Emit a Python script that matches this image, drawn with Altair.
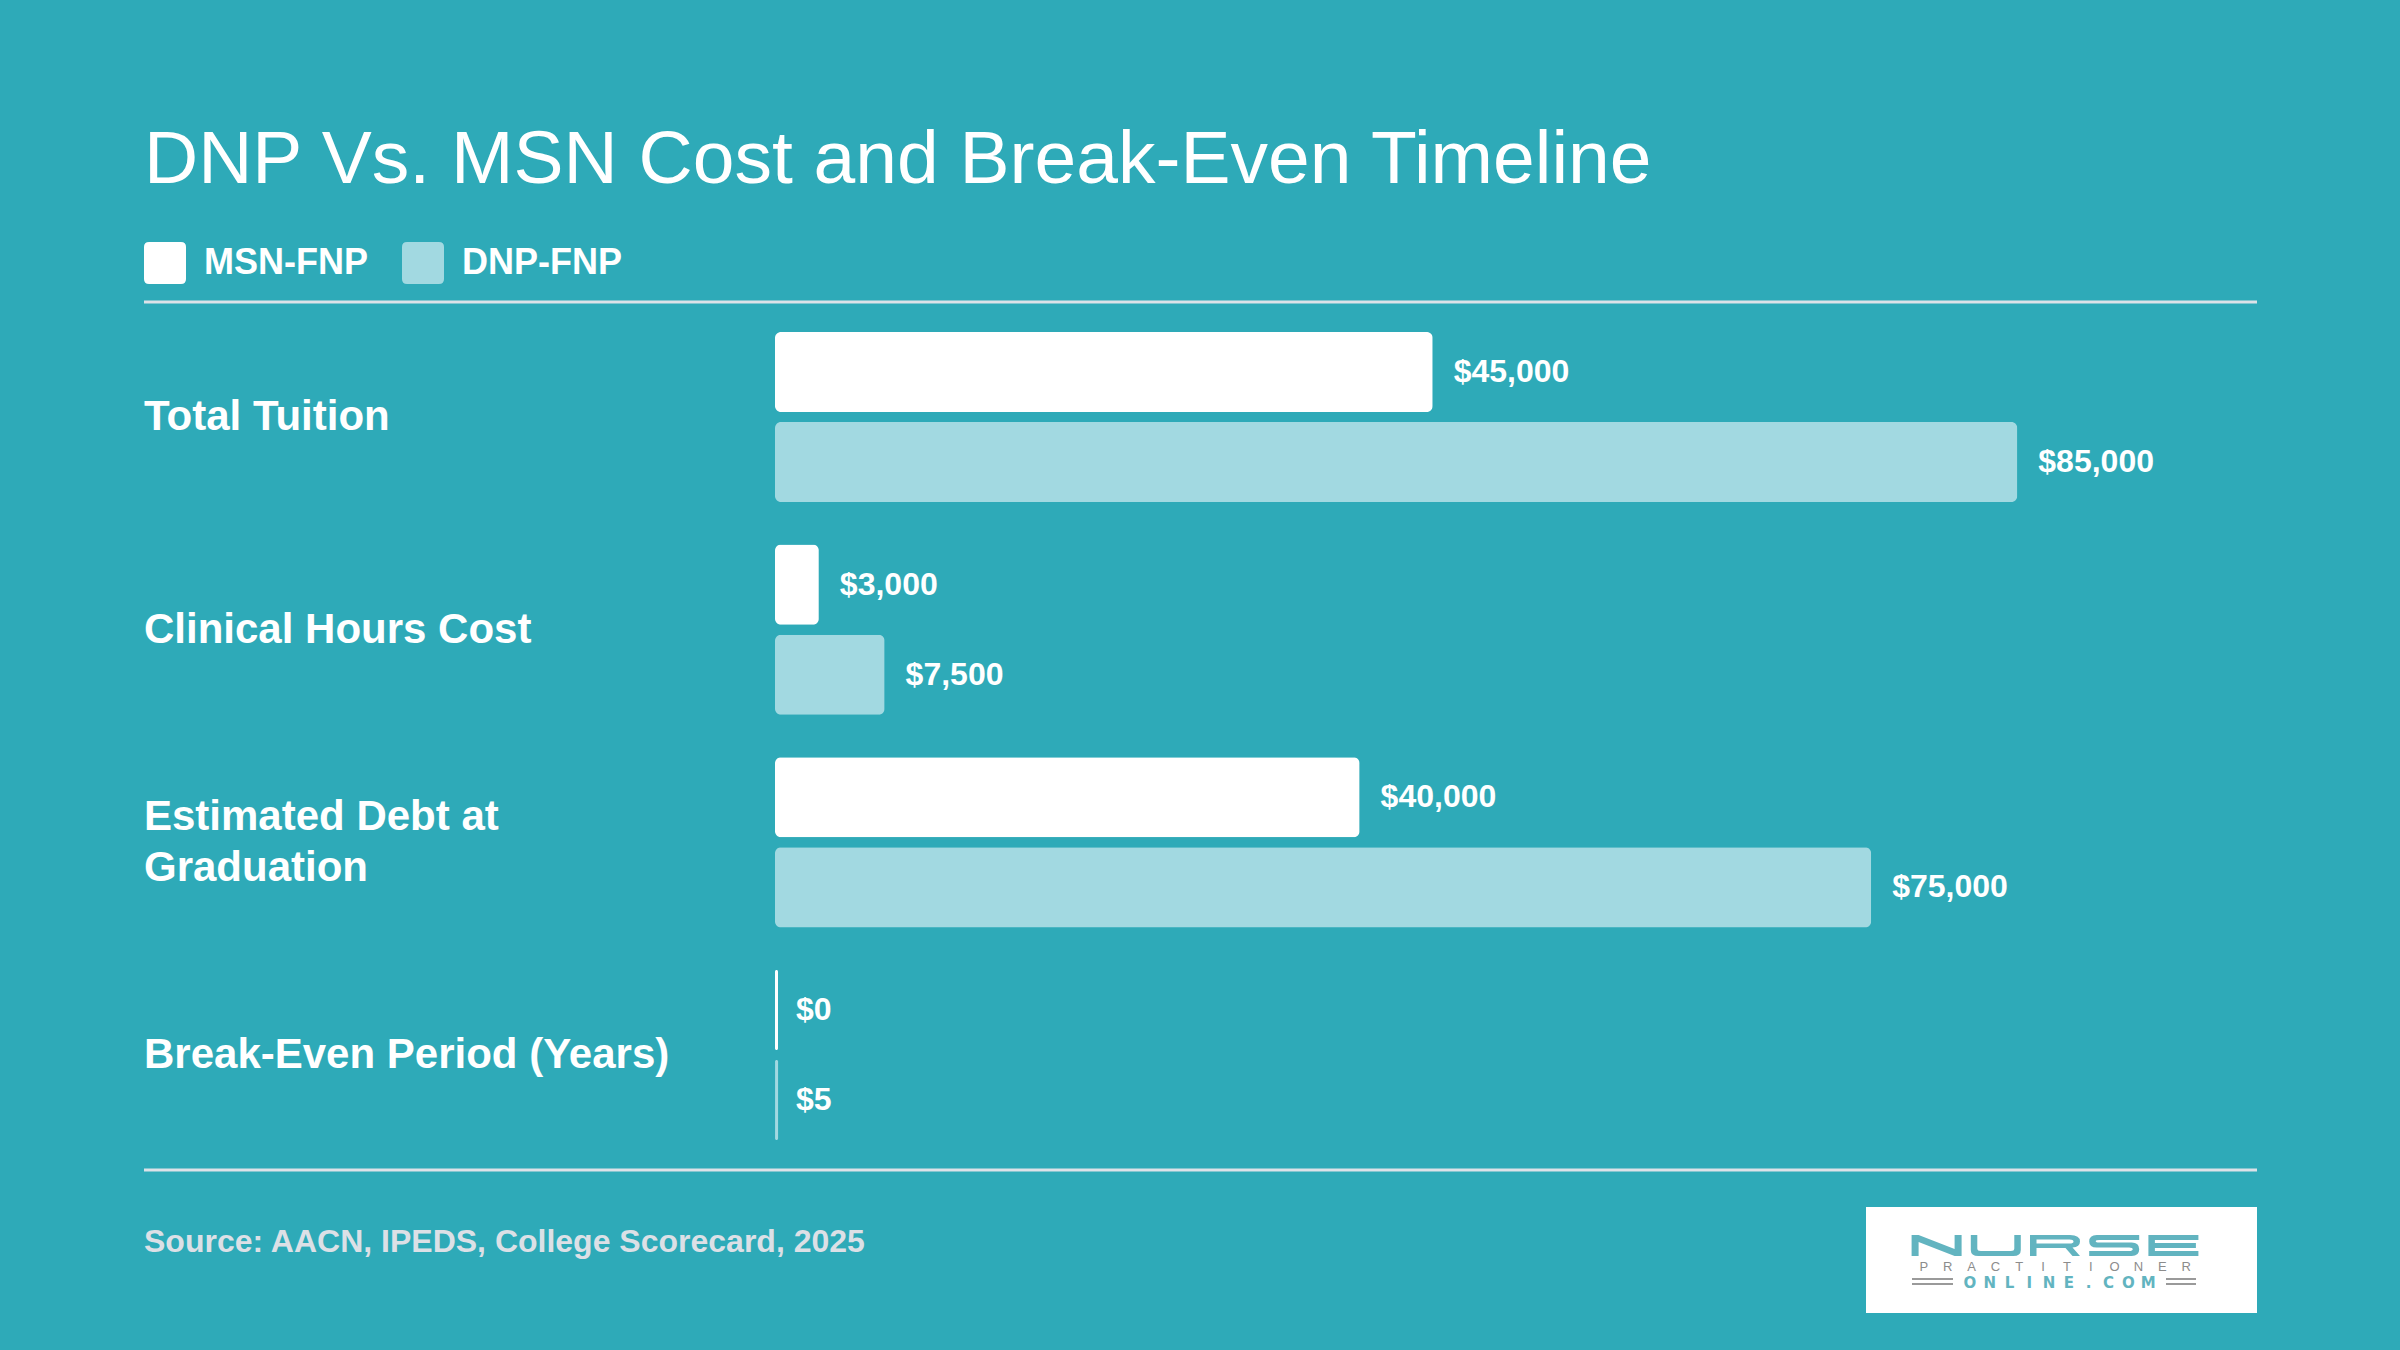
import altair as alt
import pandas as pd

# --- chart values -------------------------------------------------------
categories = [
    "Total Tuition",
    "Clinical Hours Cost",
    "Estimated Debt at Graduation",
    "Break-Even Period (Years)",
]
category_labels = [
    "Total Tuition",
    "Clinical Hours Cost",
    "Estimated Debt at\nGraduation",
    "Break-Even Period (Years)",
]
series = ["MSN-FNP", "DNP-FNP"]
msn_values = [45000, 3000, 40000, 0]
dnp_values = [85000, 7500, 75000, 5]

title_text = "DNP Vs. MSN Cost and Break-Even Timeline"
source_text = "Source: AACN, IPEDS, College Scorecard, 2025"

# --- styling -------------------------------------------------------------
BG = "#2EAAB8"
MSN_COLOR = "#FFFFFF"
DNP_COLOR = "#A2D9E1"
RULE_COLOR = "#DCE2E8"
LOGO_TEAL = "#62B4C0"
LOGO_GRAY = "#8C8C8C"
FONT = "Liberation Sans"
LABEL_LINE_HEIGHT = 51

rows = []
for cat, lab, m, d in zip(categories, category_labels, msn_values, dnp_values):
    rows.append({"category": cat, "label": lab, "series": series[0], "value": m})
    rows.append({"category": cat, "label": lab, "series": series[1], "value": d})
df = pd.DataFrame(rows)
labels_df = pd.DataFrame({
    "category": categories,
    "label": category_labels,
    "lines": [lab.count("\n") + 1 for lab in category_labels],
})

x_scale = alt.Scale(domain=[0, 101400], range=[775, 2257], nice=False)
y_scale = alt.Scale(domain=categories, range=[310.7, 1161.3],
                    paddingInner=0.2, paddingOuter=0.1)
off_scale = alt.Scale(domain=series, paddingInner=0.111, paddingOuter=0)
color_scale = alt.Scale(domain=series, range=[MSN_COLOR, DNP_COLOR])
px_scale = alt.Scale(domain=[0, 2400], range=[0, 2400])
py_scale = alt.Scale(domain=[0, 1350], range=[0, 1350])

rounded_square = ("M-0.76,-1 L0.76,-1 Q1,-1 1,-0.76 L1,0.76 Q1,1 0.76,1 "
                  "L-0.76,1 Q-1,1 -1,0.76 L-1,-0.76 Q-1,-1 -0.76,-1 Z")

base = alt.Chart(df)
y_enc = alt.Y("category:N", scale=y_scale, axis=None, sort=categories)
off_enc = alt.YOffset("series:N", scale=off_scale, sort=series)

bars = base.mark_bar(cornerRadius=6).encode(
    x=alt.X("value:Q", scale=x_scale, axis=None),
    y=y_enc,
    yOffset=off_enc,
    color=alt.Color(
        "series:N", scale=color_scale, sort=series,
        legend=alt.Legend(
            title=None, orient="none", legendX=144, legendY=242,
            direction="horizontal", symbolType=rounded_square,
            symbolSize=1764, symbolStrokeWidth=0, symbolOpacity=1,
            labelFont=FONT, labelFontSize=36, labelFontWeight="bold",
            labelColor="#FFFFFF", labelOffset=18, columnPadding=34,
            padding=0, labelLimit=400,
        ),
    ),
)

# near-zero values still get a thin visible sliver at the baseline
slivers = base.transform_filter("datum.value < 1000").mark_bar(
    x2Offset=3, cornerRadius=1.5
).encode(
    x=alt.X("value:Q", scale=x_scale, axis=None),
    x2=alt.X2("value:Q"),
    y=y_enc,
    yOffset=off_enc,
    color=alt.Color("series:N", scale=color_scale, sort=series, legend=None),
)

values = base.mark_text(
    align="left", baseline="middle", dx=21, font=FONT, fontSize=32,
    fontWeight="bold", color="#FFFFFF",
).encode(
    x=alt.X("value:Q", scale=x_scale, axis=None),
    y=y_enc,
    yOffset=off_enc,
    text=alt.Text("value:Q", format="$,.0f"),
)

# category names, multi-line ones shifted up so the block stays centred
label_layers = []
for n in sorted(labels_df["lines"].unique()):
    label_layers.append(
        alt.Chart(labels_df).transform_filter(f"datum.lines == {n}").mark_text(
            align="left", baseline="middle", font=FONT, fontSize=42,
            fontWeight="bold", color="#FFFFFF", lineBreak="\n",
            lineHeight=LABEL_LINE_HEIGHT, dy=-(n - 1) * LABEL_LINE_HEIGHT / 2,
        ).encode(
            x=alt.value(144),
            y=y_enc,
            text="label:N",
        )
    )

title = alt.Chart(pd.DataFrame({"t": [title_text]})).mark_text(
    align="left", baseline="alphabetic", font=FONT, fontSize=75,
    color="#FFFFFF",
).encode(x=alt.value(144), y=alt.value(183), text="t:N")

source = alt.Chart(pd.DataFrame({"t": [source_text]})).mark_text(
    align="left", baseline="alphabetic", font=FONT, fontSize=32,
    fontWeight="bold", color="#DCE0E6",
).encode(x=alt.value(144), y=alt.value(1252), text="t:N")

rule_df = pd.DataFrame({"y": [302, 1170]})
rules = alt.Chart(rule_df).mark_rule(color=RULE_COLOR, strokeWidth=3).encode(
    x=alt.value(144), x2=alt.value(2257),
    y=alt.Y("y:Q", scale=py_scale, axis=None),
)

# --- logo block --------------------------------------------------------
logo_box = alt.Chart(pd.DataFrame({"a": [0]})).mark_rect(color="#FFFFFF").encode(
    x=alt.value(1866), x2=alt.value(2257), y=alt.value(1207), y2=alt.value(1313)
)

# wide block letters for the wordmark, drawn as symbol paths
glyph_paths = {
    "N": "M-1,0.42 L-1,-0.42 L-0.72,-0.42 L0.72,0.14 L0.72,-0.42 L1,-0.42 "
         "L1,0.42 L0.72,0.42 L-0.72,-0.14 L-0.72,0.42 Z",
    "U": "M-1,-0.42 L-0.74,-0.42 L-0.74,0.12 Q-0.74,0.22 -0.6,0.22 L0.6,0.22 "
         "Q0.74,0.22 0.74,0.12 L0.74,-0.42 L1,-0.42 L1,0.18 Q1,0.42 0.7,0.42 "
         "L-0.7,0.42 Q-1,0.42 -1,0.18 Z",
    "R": "M-1,0.42 L-1,-0.42 L0.6,-0.42 Q1,-0.42 1,-0.16 Q1,0.06 0.7,0.08 "
         "L1,0.42 L0.7,0.42 L0.42,0.1 L-0.74,0.1 L-0.74,0.42 Z "
         "M-0.74,-0.24 L-0.74,-0.08 L0.58,-0.08 Q0.74,-0.08 0.74,-0.16 "
         "Q0.74,-0.24 0.58,-0.24 Z",
    "S": "M1,-0.42 L-0.7,-0.42 Q-1,-0.42 -1,-0.16 Q-1,0.08 -0.7,0.08 "
         "L0.6,0.08 Q0.74,0.08 0.74,0.15 Q0.74,0.22 0.6,0.22 L-1,0.22 "
         "L-1,0.42 L0.7,0.42 Q1,0.42 1,0.15 Q1,-0.12 0.7,-0.12 L-0.6,-0.12 "
         "Q-0.74,-0.12 -0.74,-0.17 Q-0.74,-0.22 -0.6,-0.22 L1,-0.22 Z",
    "E": "M-1,-0.42 L1,-0.42 L1,-0.22 L-0.74,-0.22 L-0.74,-0.1 L0.9,-0.1 "
         "L0.9,0.1 L-0.74,0.1 L-0.74,0.22 L1,0.22 L1,0.42 L-1,0.42 Z",
}
wordmark = "NURSE"


def spaced(word, left, right):
    step = (right - left) / len(word)
    return pd.DataFrame({
        "ch": list(word),
        "idx": list(range(len(word))),
        "px": [left + step * (i + 0.5) for i in range(len(word))],
    })


logo_nurse = alt.Chart(spaced(wordmark, 1907, 2203)).mark_point(
    filled=True, opacity=1, size=2500, strokeWidth=0, color=LOGO_TEAL,
).encode(
    x=alt.X("px:Q", scale=px_scale, axis=None),
    y=alt.value(1245.5),
    shape=alt.Shape(
        "ch:N",
        scale=alt.Scale(domain=list(glyph_paths.keys()),
                        range=list(glyph_paths.values())),
        legend=None,
    ),
)

logo_pract = alt.Chart(spaced("PRACTITIONER", 1912, 2198)).mark_text(
    font=FONT, fontSize=13, color=LOGO_GRAY, baseline="alphabetic",
).encode(x=alt.X("px:Q", scale=px_scale, axis=None), y=alt.value(1271), text="ch:N")

logo_online = alt.Chart(spaced("ONLINE.COM", 1960, 2158)).mark_text(
    font="DejaVu Sans", fontSize=15, fontWeight="bold", color=LOGO_TEAL,
    baseline="alphabetic",
).encode(x=alt.X("px:Q", scale=px_scale, axis=None), y=alt.value(1288), text="ch:N")

logo_lines_df = pd.DataFrame({
    "x1": [1912, 1912, 2166, 2166],
    "x2": [1953, 1953, 2196, 2196],
    "y": [1279, 1284, 1279, 1284],
})
logo_lines = alt.Chart(logo_lines_df).mark_rule(color="#9A9A9A", strokeWidth=2).encode(
    x=alt.X("x1:Q", scale=px_scale, axis=None),
    x2="x2:Q",
    y=alt.Y("y:Q", scale=py_scale, axis=None),
)

chart = alt.layer(
    rules, bars, slivers, values, *label_layers, title, source,
    logo_box, logo_nurse, logo_pract, logo_online, logo_lines,
).resolve_scale(
    x="independent", y="independent", shape="independent", color="independent"
).properties(
    width=2400, height=1350, background=BG, padding=0,
    autosize=alt.AutoSizeParams(type="none"),
).configure_view(stroke=None)

chart.save("out.html", embed_options={"renderer": "svg", "actions": False})
